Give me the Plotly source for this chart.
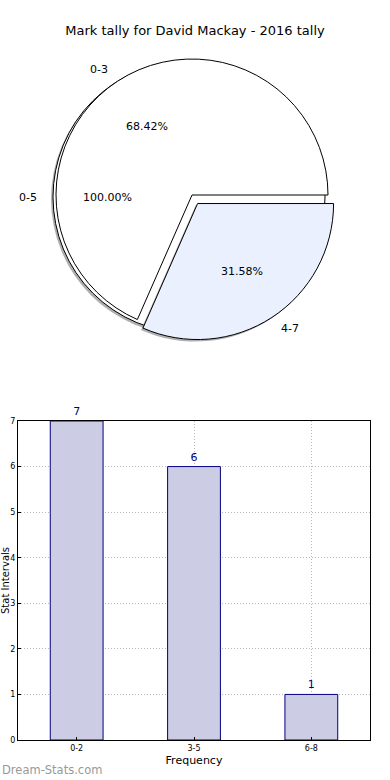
import math
import plotly.graph_objects as go

# ---- data ----
title_text = "Mark tally for David Mackay - 2016 tally"
pie_outer_labels = ["0-5"]
pie_outer_values = [19]
pie_labels = ["0-3", "4-7"]
pie_values = [13, 6]
bar_categories = ["0-2", "3-5", "6-8"]
bar_values = [7, 6, 1]

W, H = 390, 780
FONT = "DejaVu Sans"

# pie geometry (pixels)
cx, cy, r = 192, 195, 136
ocx, ocy = cx - 3, cy + 2          # centre of the full (0-5) pie
pull = 0.075
shadow_dx, shadow_dy = -2, 2
SHADOW = "rgba(110,110,110,0.55)"

tot = sum(pie_values)
# first slice starts at 3 o'clock and runs counterclockwise
rot = 90 - 360 * pie_values[0] / tot


def dom(cxp, cyp, half):
    return dict(x=[(cxp - half) / W, (cxp + half) / W],
                y=[1 - (cyp + half) / H, 1 - (cyp - half) / H])


fig = go.Figure()

# shadow of full pie
fig.add_trace(go.Pie(labels=pie_outer_labels, values=pie_outer_values, sort=False,
                     textinfo="none", hoverinfo="skip", showlegend=False,
                     marker=dict(colors=[SHADOW], line=dict(width=0)),
                     domain=dom(ocx + shadow_dx, ocy + shadow_dy, r)))
# full pie 0-5
fig.add_trace(go.Pie(labels=pie_outer_labels, values=pie_outer_values, sort=False,
                     textinfo="none", showlegend=False,
                     marker=dict(colors=["white"], line=dict(color="black", width=1)),
                     domain=dom(ocx, ocy, r)))
# shadow of exploded slice
fig.add_trace(go.Pie(labels=pie_labels, values=pie_values, sort=False,
                     textinfo="none", hoverinfo="skip", showlegend=False, rotation=rot,
                     direction="counterclockwise", pull=[0, pull],
                     marker=dict(colors=["rgba(0,0,0,0)", SHADOW], line=dict(width=0)),
                     domain=dom(cx + shadow_dx, cy + shadow_dy, r * (1 + pull))))
# main pie
fig.add_trace(go.Pie(labels=pie_labels, values=pie_values, sort=False,
                     textinfo="none", showlegend=False, rotation=rot,
                     direction="counterclockwise", pull=[0, pull],
                     marker=dict(colors=["white", "#EAF0FE"],
                                 line=dict(color="black", width=1)),
                     domain=dom(cx, cy, r * (1 + pull))))

annotations = []


def add_pie_text(label, pct, start, frac, explode, ccx, ccy):
    mid = math.radians(start + frac * 360 / 2)
    ox = ccx + explode * r * math.cos(mid)
    oy = ccy - explode * r * math.sin(mid)
    lx = ox + 1.1 * r * math.cos(mid)
    ly = oy - 1.1 * r * math.sin(mid)
    px = ox + 0.6 * r * math.cos(mid)
    py = oy - 0.6 * r * math.sin(mid)
    annotations.append(dict(x=lx / W, y=1 - ly / H, xref="paper", yref="paper",
                            text=label, showarrow=False,
                            xanchor="right" if math.cos(mid) < 0 else "left",
                            yanchor="middle", font=dict(size=11, color="black", family=FONT)))
    annotations.append(dict(x=px / W, y=1 - py / H, xref="paper", yref="paper",
                            text=pct, showarrow=False, xanchor="center", yanchor="middle",
                            font=dict(size=11, color="black", family=FONT)))


tot_outer = sum(pie_outer_values)
add_pie_text(pie_outer_labels[0], "%.2f%%" % (100 * pie_outer_values[0] / tot_outer),
             0, 1.0, 0, ocx, ocy)
angle = 0
for i, (lab, v) in enumerate(zip(pie_labels, pie_values)):
    frac = v / tot
    add_pie_text(lab, "%.2f%%" % (100 * frac), angle, frac, pull if i == 1 else 0, cx, cy)
    angle += frac * 360

# bar chart
fig.add_trace(go.Bar(x=bar_categories, y=bar_values, width=0.45,
                     marker=dict(color="#CCCCE4", line=dict(color="#000080", width=1)),
                     text=[str(v) for v in bar_values], textposition="outside",
                     cliponaxis=False, showlegend=False,
                     textfont=dict(size=11, color="#000080", family=FONT)))

annotations.append(dict(x=0, y=1 - 770 / H, xref="paper", yref="paper",
                        text="Dream-Stats.com", showarrow=False,
                        xanchor="left", yanchor="middle",
                        font=dict(size=11.5, color="#999999", family=FONT)))

GRID = dict(showgrid=True, gridcolor="#b8b8b8", griddash="1px,2px", gridwidth=1)

fig.update_layout(
    width=W, height=H,
    margin=dict(l=0, r=0, t=0, b=0),
    paper_bgcolor="white", plot_bgcolor="white",
    font=dict(family=FONT, color="black"),
    title=dict(text=title_text, x=0.5, xanchor="center", y=1 - 30 / H, yanchor="middle",
               font=dict(size=13, color="black", family=FONT)),
    annotations=annotations,
    xaxis=dict(domain=[18 / W, 370 / W], range=[-0.5, 2.5], anchor="y",
               showline=True, linecolor="black", linewidth=1, mirror=True,
               ticks="inside", ticklen=3, tickcolor="black",
               tickfont=dict(size=8, family=FONT), automargin=False,
               title=dict(text="Frequency", font=dict(size=11, family=FONT), standoff=4),
               **GRID),
    yaxis=dict(domain=[1 - 740 / H, 1 - 421 / H], range=[0, 7], dtick=1, anchor="x",
               showline=True, linecolor="black", linewidth=1, mirror=True,
               zeroline=False,
               ticks="inside", ticklen=3, tickcolor="black",
               tickfont=dict(size=8, family=FONT), automargin=False,
               title=dict(text="Stat Intervals", font=dict(size=10, family=FONT), standoff=0),
               **GRID),
)

fig.write_html("out.html", config={"displayModeBar": False},
               post_script="document.body.style.margin='0';")
